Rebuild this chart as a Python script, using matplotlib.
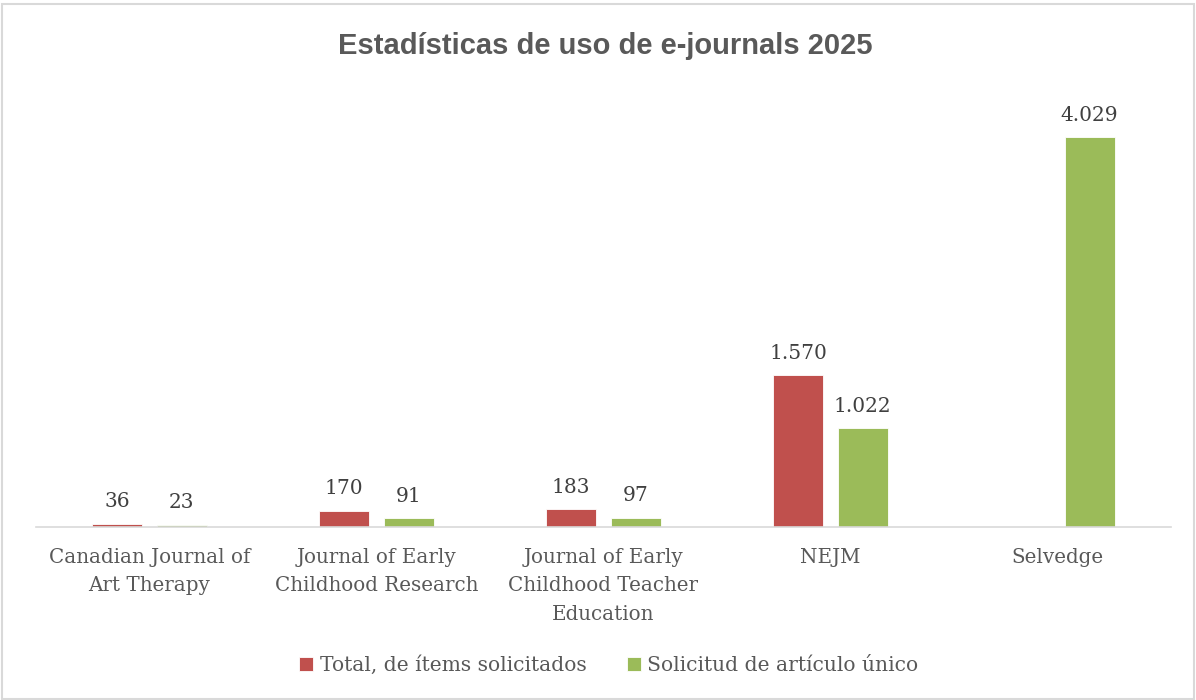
import numpy as np
import matplotlib
matplotlib.use("Agg")
import matplotlib.pyplot as plt
from matplotlib.patches import Rectangle

TITLE = "Estadísticas de uso de e-journals 2025"
CATEGORIES = [
    "Canadian Journal of\nArt Therapy",
    "Journal of Early\nChildhood Research",
    "Journal of Early\nChildhood Teacher\nEducation",
    "NEJM",
    "Selvedge",
]
SERIES_NAMES = ["Total, de ítems solicitados", "Solicitud de artículo único"]
TOTAL_ITEMS = [36, 170, 183, 1570, np.nan]
SINGLE_ARTICLE = [23, 91, 97, 1022, 4029]

RED = "#C0504D"
GREEN = "#9BBB59"
TEXT_GRAY = "#595959"
LABEL_GRAY = "#404040"
LINE_GRAY = "#D9D9D9"


def fmt(v):
    return "{:,}".format(int(v)).replace(",", ".")


fig = plt.figure(figsize=(11.96, 7.0), dpi=100)
ax = fig.add_axes([0.030, 0.247, 0.949, 0.622])

x = np.arange(len(CATEGORIES))
width = 0.22
offset = 0.142

series = [(TOTAL_ITEMS, RED, -offset), (SINGLE_ARTICLE, GREEN, offset)]
for (values, color, off), name in zip(series, SERIES_NAMES):
    ax.bar(x + off, values, width, color=color, edgecolor="white",
           linewidth=0.6, label=name, zorder=2)
    for xi, v in zip(x + off, values):
        if np.isnan(v):
            continue
        ax.annotate(fmt(v), (xi, v), xytext=(0, 9), textcoords="offset points",
                    ha="center", va="bottom", fontsize=14.5,
                    family="DejaVu Serif", color=LABEL_GRAY)

ax.set_xlim(-0.5, len(CATEGORIES) - 0.5)
ax.set_ylim(0, 4500)
ax.set_yticks([])
ax.set_xticks(x)
ax.set_xticklabels(CATEGORIES, family="DejaVu Serif", fontsize=14.3,
                   color=TEXT_GRAY, linespacing=1.62)
ax.tick_params(axis="x", length=0, pad=15)

for side in ["top", "right", "left"]:
    ax.spines[side].set_visible(False)
ax.spines["bottom"].set_color(LINE_GRAY)
ax.spines["bottom"].set_linewidth(1.2)

fig.text(0.506, 0.935, TITLE, ha="center", va="center", fontsize=21,
         fontweight="bold", family="Liberation Sans", color=TEXT_GRAY)

leg = fig.legend(loc="center", bbox_to_anchor=(0.509, 0.05), ncol=2,
                 frameon=False, handlelength=0.7, handleheight=0.7,
                 handletextpad=0.3, columnspacing=2.0,
                 prop={"family": "DejaVu Serif", "size": 14.6})
for t in leg.get_texts():
    t.set_color(TEXT_GRAY)

fig.patches.append(Rectangle((0.002, 0.002), 0.996, 0.992,
                             transform=fig.transFigure, fill=False,
                             edgecolor=LINE_GRAY, linewidth=1.5))

fig.savefig("out.png", dpi=100)
